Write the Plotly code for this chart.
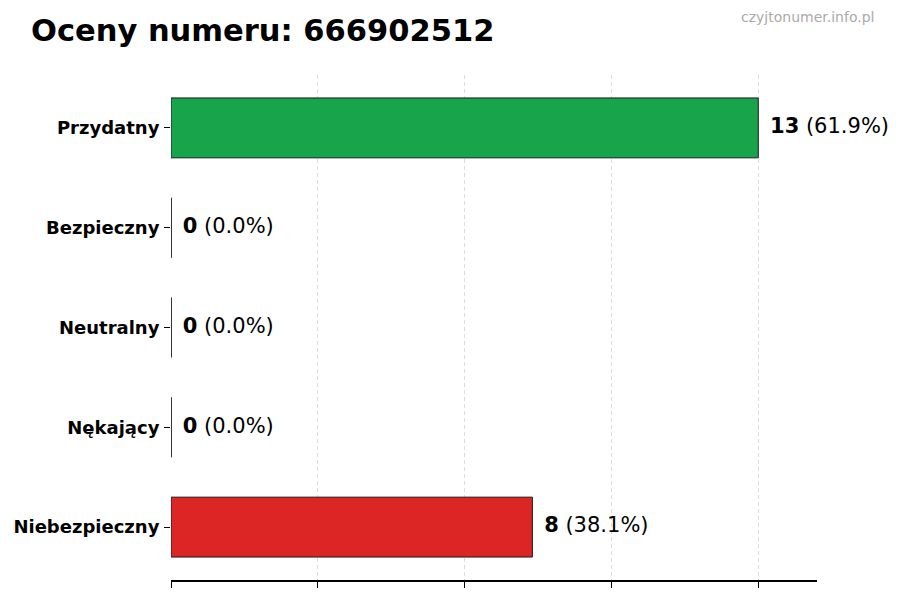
import plotly.graph_objects as go

# data
categories = ['Przydatny', 'Bezpieczny', 'Neutralny', 'Nękający', 'Niebezpieczny']
counts = [13, 0, 0, 0, 8]
bar_colors = ['#17a44b', '#17a44b', '#9ca3af', '#dc2626', '#dc2626']
phone = '666902512'

total = sum(counts)
vmax = max(counts)
x_max = vmax * 1.1
x_ticks = [vmax * i / 4 for i in range(5)]
pad = vmax * 0.02

labels = ['<b>%d</b> (%.1f%%)' % (c, c / total * 100) for c in counts]

fig = go.Figure()

fig.add_trace(go.Bar(
    x=counts,
    y=categories,
    orientation='h',
    width=0.6,
    marker=dict(color=bar_colors, line=dict(color='#1a1a1a', width=1)),
    hoverinfo='skip',
))

fig.add_trace(go.Scatter(
    x=[c + pad for c in counts],
    y=categories,
    mode='text',
    text=labels,
    textposition='middle right',
    textfont=dict(family='DejaVu Sans', size=21, color='black'),
    cliponaxis=False,
    hoverinfo='skip',
))

# zero-length bars still show their edge in the original
for i, c in enumerate(counts):
    if c == 0:
        fig.add_shape(type='line', xref='x', yref='y', x0=0, x1=0,
                      y0=i - 0.3, y1=i + 0.3,
                      line=dict(color='#1a1a1a', width=1))

fig.add_annotation(
    text='czyjtonumer.info.pl',
    xref='paper', yref='paper', x=1.091, y=1.115,
    xanchor='right', yanchor='middle', showarrow=False,
    font=dict(family='DejaVu Sans', size=14, color='#aaaaaa'),
)

# page body adds 8px offset, so the figure is a bit smaller than the window
fig.update_layout(
    title=dict(
        text='<b>Oceny numeru: %s</b>' % phone,
        xref='container', yref='container', x=23 / 892, y=0.963,
        xanchor='left', yanchor='middle',
        font=dict(family='DejaVu Sans', size=30.5, color='black'),
    ),
    width=892,
    height=592,
    margin=dict(l=163, r=83, t=67, b=20),
    plot_bgcolor='white',
    paper_bgcolor='white',
    showlegend=False,
    font=dict(family='DejaVu Sans', color='black'),
    xaxis=dict(
        range=[0, x_max],
        tickvals=x_ticks,
        showticklabels=False,
        ticks='outside', ticklen=6, tickcolor='black',
        showline=True, linecolor='black', linewidth=1.5,
        showgrid=True, gridcolor='#dcdcdc', griddash='4px,3px', gridwidth=1,
        zeroline=False,
    ),
    yaxis=dict(
        range=[4.53, -0.53],
        automargin=False,
        ticks='outside', ticklen=6, tickcolor='black',
        ticklabelstandoff=1,
        tickfont=dict(family='DejaVu Sans', size=18, color='black', weight='bold'),
        showline=False, showgrid=False, zeroline=False,
    ),
)

fig.write_html('out.html')
